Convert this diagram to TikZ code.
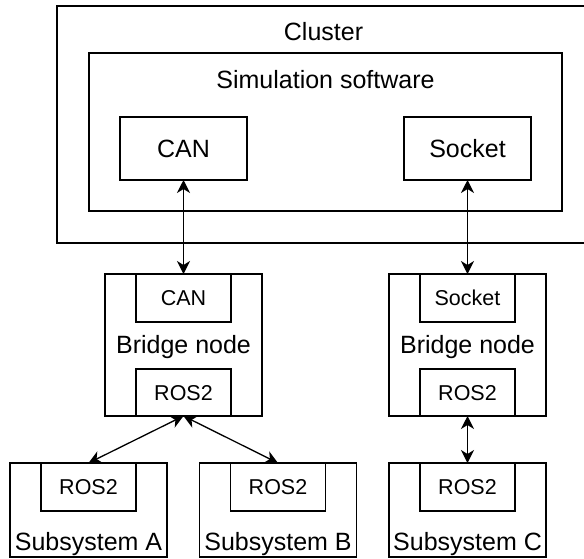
\documentclass[tikz,border=0pt]{standalone}
\usepackage{fontspec}
\setmainfont{Liberation Sans}
\usetikzlibrary{arrows.meta}
\begin{document}
\begin{tikzpicture}[x=1pt,y=-1pt,
  box/.style 2 args={draw, line width=1.4pt, inner sep=0pt, outer sep=0pt,
    minimum width=#1, minimum height=#2},
  bigtext/.style={font=\fontsize{25}{30}\selectfont, inner sep=0pt},
  smalltext/.style={font=\fontsize{21.5}{26}\selectfont, text height=15.4pt, text depth=0pt},
  captext/.style={font=\fontsize{25}{30}\selectfont, text height=17.9pt, text depth=0pt},
  tip/.style={Stealth[length=13pt,width=13pt,inset=4pt]},
  conn/.style={line width=1.3pt, {Stealth[length=13pt,width=13pt,inset=4pt]}-{Stealth[length=13pt,width=13pt,inset=4pt]}}
]
\useasboundingbox (0,0) rectangle (584,558);
\clip (0,0) rectangle (584,558);

% Cluster and simulation software
\node[box={533pt}{237pt}] (cluster) at (323.5,124.5) {};
\node[bigtext, anchor=base] (clusterlbl) at (323.5,40) {Cluster};
\node[box={473pt}{158pt}] (sim) at (325.5,132) {};
\node[bigtext, anchor=base] (simlbl) at (325.5,88) {Simulation software};
\node[box={127pt}{63pt}, captext] (canT) at (183.5,148.5) {CAN};
\node[box={127pt}{63pt}, captext] (sockT) at (467.5,148.5) {Socket};

% Bridge nodes
\node[box={157pt}{142pt}] (bridgeL) at (183.5,345) {};
\node[box={95pt}{48pt}, smalltext] (canL) at (183.5,298) {CAN};
\node[box={95pt}{47pt}, smalltext] (rosL) at (183.5,392.5) {ROS2};
\node[bigtext, anchor=base] (bridgeLlbl) at (183.5,353) {Bridge node};

\node[box={157pt}{142pt}] (bridgeR) at (467.5,345) {};
\node[box={95pt}{48pt}, smalltext] (sockR) at (467.5,298) {Socket};
\node[box={95pt}{47pt}, smalltext] (rosR) at (467.5,392.5) {ROS2};
\node[bigtext, anchor=base] (bridgeRlbl) at (467.5,353) {Bridge node};

% Subsystems
\node[box={157pt}{94pt}] (subA) at (88.5,510) {};
\node[box={95pt}{48pt}, smalltext] (rosA) at (88.5,487) {ROS2};
\node[bigtext, anchor=base] (subAlbl) at (88.5,550) {Subsystem A};

\node[box={157pt}{94pt}] (subB) at (278,510) {};
\node[box={95pt}{48pt}, smalltext] (rosB) at (278,487) {ROS2};
\node[bigtext, anchor=base] (subBlbl) at (278,550) {Subsystem B};

\node[box={157pt}{94pt}] (subC) at (467.5,510) {};
\node[box={95pt}{48pt}, smalltext] (rosC) at (467.5,487) {ROS2};
\node[bigtext, anchor=base] (subClbl) at (467.5,550) {Subsystem C};

% Connections
\draw[conn] (canT.south) -- (bridgeL.north);
\draw[conn] (sockT.south) -- (bridgeR.north);
\draw[conn] (rosL.south) -- (rosA.north);
\draw[conn] (rosL.south) -- (rosB.north);
\draw[conn] (rosR.south) -- (rosC.north);
\end{tikzpicture}
\end{document}
